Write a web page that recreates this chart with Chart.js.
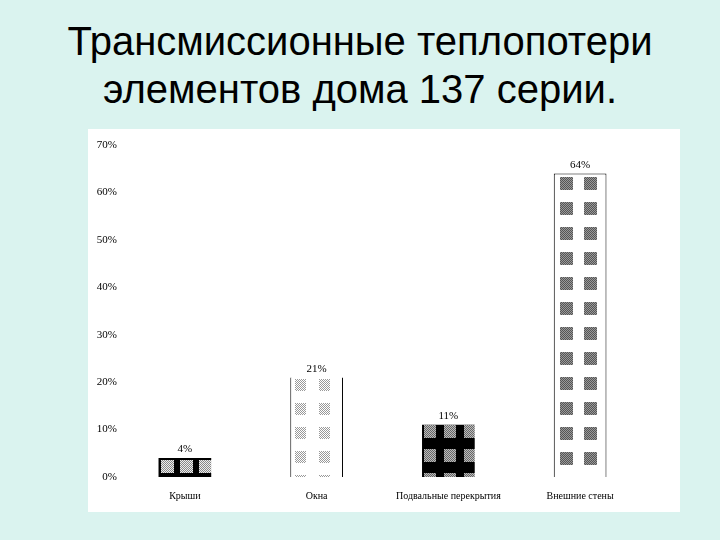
<!DOCTYPE html>
<html>
<head>
<meta charset="utf-8">
<script src="https://cdn.jsdelivr.net/npm/chart.js@4.4.1/dist/chart.umd.min.js"></script>
<style>
  html, body { margin: 0; padding: 0; }
  body { width: 720px; height: 540px; background: #daf3ef; position: relative; overflow: hidden; }
  #title {
    position: absolute; left: 0; top: 17px; width: 720px;
    text-align: center; font-family: "Liberation Sans", Arial, sans-serif;
    font-size: 40px; line-height: 48px; color: #000;
  }
  #box { position: absolute; left: 88px; top: 129px; width: 592px; height: 383px; background: #fff; }
</style>
</head>
<body>
<div id="title">Трансмиссионные теплопотери<br>элементов дома 137 серии.</div>
<div id="box"><canvas id="myChart" width="592" height="383"></canvas></div>
<script>
const categories = ["Крыши", "Окна", "Подвальные перекрытия", "Внешние стены"]
const values = [4, 21, 11, 64]
const yTicks = [0, 10, 20, 30, 40, 50, 60, 70]

// little tiles for the hatched bar fills
function makeTile(w, h, draw) {
    const c = document.createElement("canvas")
    c.width = w
    c.height = h
    draw(c.getContext("2d"))
    return c
}

function dots(g, x, y, w, h, color) {
    g.fillStyle = color
    for (let i = 0; i < w; i++) {
        for (let j = 0; j < h; j++) {
            if ((i + j) % 2 === 0) g.fillRect(x + i, y + j, 1, 1)
        }
    }
}

const ctx = document.getElementById("myChart").getContext("2d")

const tiles = [
    // roofs: black with light dotted squares
    makeTile(19, 17, g => {
        g.fillStyle = "#000"; g.fillRect(0, 0, 19, 17)
        g.fillStyle = "#888"; g.fillRect(2, 2, 13, 13)
        dots(g, 2, 2, 13, 13, "#eee")
    }),
    // windows: white with light grey dotted squares
    makeTile(24, 24, g => {
        g.fillStyle = "#fff"; g.fillRect(0, 0, 24, 24)
        dots(g, 5, 2, 11, 12, "#999")
    }),
    // basement floors: black with grey checker squares
    makeTile(20, 24, g => {
        g.fillStyle = "#000"; g.fillRect(0, 0, 20, 24)
        g.fillStyle = "#666"; g.fillRect(2, 0, 12, 13)
        dots(g, 2, 0, 12, 13, "#bbb")
    }),
    // outer walls: white with dark grey squares
    makeTile(24, 25, g => {
        g.fillStyle = "#fff"; g.fillRect(0, 0, 24, 25)
        g.fillStyle = "#555"; g.fillRect(6, 4, 13, 13)
        dots(g, 6, 4, 13, 13, "#999")
    })
]
const patterns = tiles.map(t => ctx.createPattern(t, "repeat"))

// line patterns up with the top-left corner of each bar
const alignPatterns = {
    id: "alignPatterns",
    beforeDatasetsDraw(chart) {
        chart.getDatasetMeta(0).data.forEach((bar, i) => {
            const left = Math.round(bar.x - bar.width / 2)
            patterns[i].setTransform(new DOMMatrix().translate(left, Math.round(bar.y)))
        })
    }
}

const valueLabels = {
    id: "valueLabels",
    afterDatasetsDraw(chart) {
        const c = chart.ctx
        c.save()
        c.font = "11px 'Liberation Serif'"
        c.fillStyle = "#000"
        c.textAlign = "center"
        c.textBaseline = "bottom"
        chart.getDatasetMeta(0).data.forEach((bar, i) => {
            c.fillText(values[i] + "%", bar.x, bar.y - 3)
        })
        c.restore()
    }
}

const config = {
    type: "bar",
    data: {
        labels: categories,
        datasets: [{
            data: values,
            backgroundColor: patterns,
            borderColor: "#000",
            borderWidth: [
                0,
                { left: 1, right: 1, top: 0, bottom: 0 },
                0,
                { left: 1, right: 1, top: 1, bottom: 0 }
            ],
            borderSkipped: false,
            categoryPercentage: 1,
            barPercentage: 0.4
        }]
    },
    options: {
        responsive: false,
        animation: false,
        layout: { padding: { top: 16, right: 34, left: 0, bottom: 0 } },
        plugins: { legend: { display: false }, tooltip: { enabled: false } },
        scales: {
            x: {
                grid: { display: false, drawTicks: false },
                border: { display: false },
                ticks: { color: "#000", font: { family: "Liberation Serif", size: 10 }, padding: 13, maxRotation: 0, autoSkip: false },
                afterFit: s => { s.height = 35 }
            },
            y: {
                min: yTicks[0],
                max: yTicks[yTicks.length - 1],
                afterBuildTicks: s => { s.ticks = yTicks.map(v => ({ value: v })) },
                grid: { display: false, drawTicks: false },
                border: { display: false },
                ticks: { color: "#000", font: { family: "Liberation Serif", size: 11 }, padding: 2, callback: v => v + "%" },
                afterFit: s => { s.width = 31 }
            }
        }
    },
    plugins: [alignPatterns, valueLabels]
}

const myChart = new Chart(ctx, config)
</script>
</body>
</html>
